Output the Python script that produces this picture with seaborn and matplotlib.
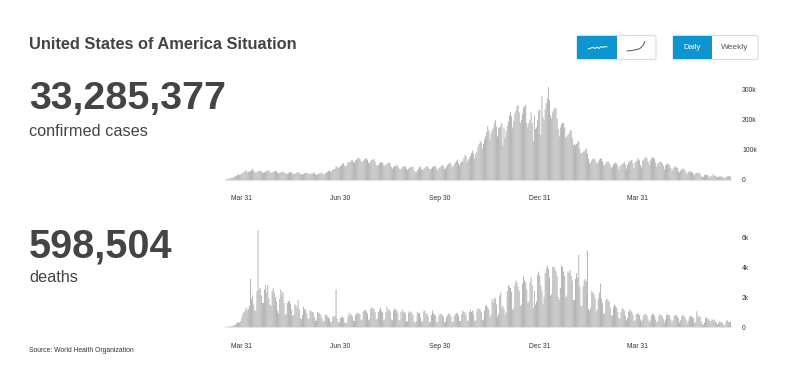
import matplotlib
matplotlib.use('Agg')
import matplotlib.pyplot as plt
from matplotlib.patches import FancyBboxPatch, Rectangle
import numpy as np
import pandas as pd
import seaborn as sns

# daily values, one row per week (Mon..Sun), from Mar 16 2020
cases_k = [
    1, 2, 3, 4, 5, 7, 9,
    8, 11, 12, 14, 17, 18, 17,
    19, 21, 24, 27, 30, 33, 26,
    27, 28, 30, 33, 38, 31, 26,
    25, 27, 28, 30, 32, 29, 25,
    24, 26, 27, 30, 33, 31, 26,
    23, 25, 27, 29, 32, 29, 24,
    22, 24, 25, 27, 28, 26, 22,
    20, 22, 23, 25, 27, 25, 20,
    21, 21, 23, 25, 26, 25, 20,
    19, 19, 20, 23, 24, 25, 20,
    21, 20, 22, 21, 24, 25, 19,
    17, 19, 21, 22, 23, 25, 19,
    18, 23, 25, 27, 30, 32, 26,
    30, 36, 36, 38, 45, 44, 40,
    42, 46, 50, 55, 57, 46, 44,
    50, 60, 58, 60, 66, 67, 60,
    58, 65, 68, 72, 75, 70, 62,
    60, 64, 68, 71, 72, 67, 58,
    56, 62, 67, 68, 70, 62, 50,
    47, 50, 55, 58, 60, 58, 48,
    47, 52, 55, 56, 58, 55, 43,
    38, 44, 46, 47, 50, 48, 40,
    35, 38, 42, 45, 47, 44, 38,
    33, 38, 42, 42, 45, 44, 31,
    27, 25, 33, 36, 45, 42, 35,
    33, 38, 40, 44, 47, 42, 37,
    36, 38, 43, 44, 48, 45, 37,
    33, 40, 43, 46, 50, 48, 36,
    39, 44, 51, 55, 58, 54, 43,
    45, 52, 57, 63, 68, 56, 48,
    58, 61, 64, 73, 84, 80, 60,
    68, 75, 80, 90, 98, 88, 72,
    86, 94, 110, 120, 130, 125, 105,
    120, 135, 145, 160, 180, 165, 135,
    155, 165, 172, 190, 200, 178, 145,
    172, 175, 180, 190, 115, 175, 140,
    162, 180, 195, 215, 225, 212, 175,
    195, 220, 230, 245, 250, 225, 190,
    200, 220, 240, 245, 250, 190, 175,
    190, 200, 225, 190, 130, 215, 170,
    175, 200, 230, 235, 150, 280, 210,
    200, 235, 255, 270, 310, 265, 215,
    205, 225, 235, 240, 240, 205, 170,
    145, 175, 185, 190, 190, 175, 140,
    145, 150, 155, 165, 165, 140, 115,
    120, 115, 120, 125, 130, 105, 90,
    90, 95, 95, 100, 105, 88, 70,
    55, 58, 65, 70, 72, 68, 58,
    55, 60, 68, 72, 70, 62, 52,
    48, 55, 60, 62, 58, 48, 40,
    45, 52, 55, 58, 55, 48, 36,
    45, 50, 53, 55, 60, 52, 38,
    50, 57, 63, 65, 67, 55, 40,
    58, 62, 68, 72, 65, 50, 42,
    62, 68, 73, 78, 72, 60, 50,
    65, 72, 76, 74, 70, 58, 45,
    55, 58, 62, 60, 56, 48, 35,
    48, 52, 55, 52, 50, 40, 30,
    38, 42, 45, 43, 40, 30, 25,
    32, 35, 38, 36, 33, 25, 20,
    27, 27, 30, 27, 25, 20, 15,
    22, 24, 25, 24, 20, 12, 10,
    11, 16, 18, 18, 16, 12, 9,
    14, 15, 19, 14, 14, 11, 9,
    11, 12, 12, 12, 10, 8, 7,
    11, 12, 13, 13, 11,
]

deaths = [
    10, 15, 20, 30, 40, 50, 60,
    80, 130, 170, 230, 300, 340, 280,
    390, 620, 850, 1000, 1100, 1300, 1100,
    1200, 1400, 3200, 1900, 2100, 1500, 1100,
    1100, 2400, 6450, 2500, 2600, 2100, 1600,
    1600, 2500, 2800, 2300, 2800, 1900, 1500,
    1400, 2400, 2600, 2250, 2000, 1700, 1100,
    900, 1900, 2500, 2200, 2350, 1600, 800,
    850, 1600, 1700, 1750, 1550, 1150, 750,
    800, 1500, 1450, 1300, 1800, 1200, 600,
    500, 800, 1350, 1200, 1150, 900, 550,
    550, 1100, 1050, 1000, 950, 650, 400,
    500, 1000, 950, 900, 800, 600, 350,
    400, 800, 850, 700, 650, 550, 300,
    350, 650, 750, 700, 2500, 550, 280,
    350, 600, 650, 700, 600, 300, 250,
    300, 700, 950, 800, 850, 700, 450,
    400, 800, 900, 950, 900, 850, 450,
    500, 1000, 1100, 1150, 1050, 900, 450,
    550, 1200, 1300, 1250, 1200, 1000, 500,
    550, 1000, 1150, 1300, 1050, 1000, 450,
    500, 1000, 1350, 1100, 1200, 1050, 500,
    450, 1100, 1250, 1100, 1150, 950, 450,
    450, 1000, 1150, 1050, 1000, 900, 350,
    400, 950, 1050, 1000, 950, 800, 350,
    300, 400, 1000, 900, 950, 650, 350,
    350, 1050, 1100, 850, 900, 700, 300,
    350, 800, 1100, 900, 850, 750, 300,
    350, 750, 900, 850, 800, 700, 300,
    350, 650, 800, 900, 850, 700, 350,
    350, 700, 850, 950, 900, 750, 400,
    400, 850, 1100, 1000, 950, 800, 400,
    450, 1000, 1150, 1000, 1100, 850, 400,
    450, 1050, 1250, 1200, 1150, 1000, 450,
    500, 1100, 1400, 1450, 1300, 1200, 650,
    800, 1850, 1650, 1950, 1900, 1500, 700,
    850, 2100, 2300, 1300, 1400, 1200, 800,
    1000, 2400, 2800, 2700, 2600, 2350, 1150,
    1250, 2800, 3100, 2950, 2700, 2400, 1400,
    1500, 2900, 3400, 3100, 3000, 2500, 1600,
    1700, 3000, 3350, 2800, 1250, 2400, 1500,
    1700, 3500, 3700, 3400, 2800, 2400, 1500,
    2000, 3600, 3900, 4100, 3900, 3300, 2100,
    2200, 4000, 4050, 3900, 3700, 3400, 2000,
    1800, 2600, 4100, 4000, 3700, 3400, 2000,
    2100, 3700, 3600, 3800, 3400, 3100, 1800,
    1800, 3200, 3600, 3300, 4800, 2700, 1400,
    1400, 2700, 3100, 3200, 3000, 5100, 1200,
    1100, 1300, 2400, 2300, 2200, 1900, 1000,
    1200, 1900, 2300, 2900, 1900, 1600, 900,
    900, 1800, 1900, 1800, 1700, 1300, 800,
    750, 1300, 1500, 1400, 1300, 1000, 600,
    550, 1000, 1250, 1200, 1100, 750, 450,
    600, 1000, 1150, 1100, 1000, 800, 400,
    450, 850, 900, 900, 800, 500, 350,
    500, 800, 850, 850, 750, 500, 300,
    450, 750, 900, 850, 750, 500, 300,
    400, 750, 850, 800, 700, 550, 300,
    500, 800, 850, 800, 750, 500, 300,
    450, 750, 800, 800, 700, 550, 300,
    450, 700, 800, 750, 650, 500, 250,
    400, 650, 750, 700, 650, 600, 250,
    350, 1050, 750, 650, 700, 400, 200,
    150, 300, 650, 600, 550, 500, 400,
    400, 500, 450, 500, 350, 300, 150,
    250, 400, 300, 350, 250, 120, 100,
    400, 450, 300, 350, 350,
]

start_date = '2020-03-16'
tick_dates = ['2020-03-31', '2020-06-30', '2020-09-30', '2020-12-31', '2021-03-31']
tick_labels = ['Mar 31', 'Jun 30', 'Sep 30', 'Dec 31', 'Mar 31']
cases_ticks = [0, 100000, 200000, 300000]
cases_tick_labels = ['0', '100k', '200k', '300k']
deaths_ticks = [0, 2000, 4000, 6000]
deaths_tick_labels = ['0', '2k', '4k', '6k']

title = 'United States of America Situation'
cases_total = '33,285,377'
deaths_total = '598,504'
source = 'Source: World Health Organization'

W, H = 800, 382
BAR = '#b4b4b4'
DARK = '#444444'
BLUE = '#0f94d2'

sns.set_theme(style='white')
plt.rcParams['font.family'] = ['Liberation Sans', 'DejaVu Sans']

df = pd.DataFrame({'day': np.arange(len(cases_k)),
                   'cases': np.array(cases_k) * 1000,
                   'deaths': deaths})
xticks = [(pd.Timestamp(d) - pd.Timestamp(start_date)).days for d in tick_dates]

fig = plt.figure(figsize=(W / 100, H / 100), dpi=100)


def px_axes(left, top, right, bottom):
    return fig.add_axes([left / W, 1 - bottom / H, (right - left) / W, (bottom - top) / H])


def draw_panel(ax, col, ymax, yticks, ylabels, label_y):
    # theme puts white edges on patches, which would hide bars this thin
    # snap off, otherwise the 1px bars round to uneven widths and gaps
    sns.barplot(data=df, x='day', y=col, orient='x', color=BAR, width=0.9,
                saturation=1, errorbar=None, linewidth=0, snap=False, ax=ax)
    ax.set_xlim(-0.5, len(df) - 0.5)
    ax.set_ylim(0, ymax)
    ax.set_xlabel('')
    ax.set_ylabel('')
    ax.set_xticks(xticks)
    ax.set_xticklabels(tick_labels, fontsize=4.9, color='#333333')
    ax.yaxis.tick_right()
    ax.set_yticks(yticks)
    ax.set_yticklabels(ylabels, fontsize=4.9, color='#333333')
    ax.tick_params(axis='x', length=0, pad=label_y)
    ax.tick_params(axis='y', length=0, pad=8)
    sns.despine(ax=ax, left=True, right=True, top=True, bottom=False)
    ax.spines['bottom'].set_color('#e4e4e4')
    ax.spines['bottom'].set_linewidth(0.8)


ax1 = px_axes(225, 80, 731, 180)
draw_panel(ax1, 'cases', 333000, cases_ticks, cases_tick_labels, 10.5)
ax2 = px_axes(225, 227, 731, 327)
draw_panel(ax2, 'deaths', 6667, deaths_ticks, deaths_tick_labels, 11.5)

# overlay in pixel coordinates for the headings and the buttons
ov = fig.add_axes([0, 0, 1, 1], zorder=5)
ov.set_xlim(0, W)
ov.set_ylim(H, 0)
ov.axis('off')

ov.text(29, 44.5, title, fontsize=11.8, fontweight='bold', color=DARK, va='center')
ov.text(29, 99, cases_total, fontsize=28.4, fontweight='bold', color=DARK, va='center')
ov.text(29, 131, 'confirmed cases', fontsize=11.7, color=DARK, va='center')
ov.text(29, 246, deaths_total, fontsize=28.6, fontweight='bold', color=DARK, va='center')
ov.text(29, 278, 'deaths', fontsize=11.7, color=DARK, va='center')
ov.text(29, 350.5, source, fontsize=4.85, color='#333333', va='center')


def button(x0, x1, xmid):
    ov.add_patch(FancyBboxPatch((x0, 35.5), x1 - x0, 24, boxstyle='round,pad=0,rounding_size=2',
                                fc='white', ec='#dddddd', lw=0.9))
    ov.add_patch(Rectangle((x0 + 0.3, 35.8), xmid - x0, 23.4, fc=BLUE, ec='none'))


button(577, 656, 617)
button(673, 758, 711.5)
ov.text(692, 47.5, 'Daily', fontsize=5.7, color='white', ha='center', va='center')
ov.text(735, 47.5, 'Weekly', fontsize=6, color='#555555', ha='center', va='center')

# little line icons on the toggle
ov.plot([588, 591, 593, 595, 597, 599, 601, 603, 605, 607],
        [49, 48, 47.5, 48.5, 47, 48.5, 46.5, 47.5, 46.5, 47], color='white', lw=0.7)
ov.plot([627, 632, 637, 640, 643, 645],
        [51, 50.5, 49.5, 48.5, 45.5, 41.5], color='#555555', lw=0.7)

fig.savefig('out.png', dpi=100, facecolor='white')
